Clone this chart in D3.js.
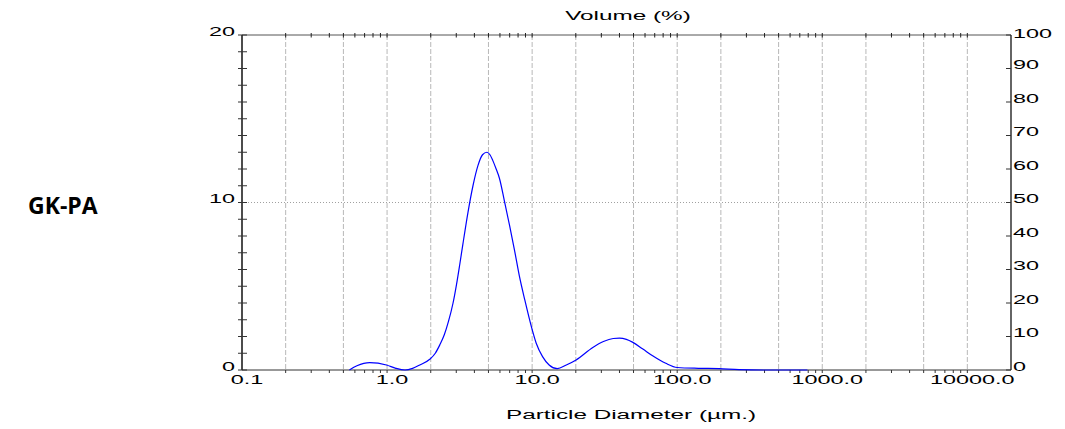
<!DOCTYPE html>
<html>
<head>
<meta charset="utf-8">
<script src="https://cdn.jsdelivr.net/npm/d3@7"></script>
<style>
  body { margin: 0; background: #fff; }
  text { font-family: "Liberation Sans", Arial, sans-serif; fill: #000; }
</style>
</head>
<body>
<svg width="1065" height="429"></svg>
<script>
const sampleName = "GK-PA";
const xTickLabels = ["0.1", "1.0", "10.0", "100.0", "1000.0", "10000.0"];
const xTickValues = [0.1, 1, 10, 100, 1000, 10000];
const gridValues = [0.2, 0.5, 1, 2, 5, 10, 20, 50, 100, 200, 500, 1000, 2000, 5000, 10000];
const leftLabels = [0, 10, 20];
const rightLabels = [0, 10, 20, 30, 40, 50, 60, 70, 80, 90, 100];

// particle diameter (µm) vs volume (%)
const diameters = [0.55, 0.62, 0.76, 0.99, 1.15, 1.33, 1.5, 1.68, 1.97, 2.15, 2.31, 2.48, 2.65, 2.85,
  3.01, 3.17, 3.33, 3.61, 3.91, 4.23, 4.55, 4.88, 5.12, 5.36, 5.65, 5.95, 6.47, 7.0, 7.58, 8.17,
  8.89, 9.87, 10.67, 11.8, 13.1, 14.9, 17.2, 20.1, 26.2, 31.0, 36.2, 40.0, 44.6, 49.5, 58, 67.7, 83.4,
  100, 140, 194, 267, 400, 790];
const volumes = [0, 0.25, 0.44, 0.3, 0.1, 0, 0.1, 0.3, 0.64, 1.0, 1.5, 2.1, 2.9, 4.0,
  5.1, 6.3, 7.5, 9.4, 11.0, 12.2, 12.85, 13.0, 12.85, 12.5, 12.0, 11.45, 10.0, 8.6, 7.1, 5.6,
  4.2, 2.6, 1.6, 0.8, 0.3, 0.08, 0.3, 0.6, 1.35, 1.7, 1.88, 1.9, 1.83, 1.65, 1.25, 0.85, 0.4,
  0.15, 0.1, 0.08, 0.02, 0, 0];

const svg = d3.select("svg");
const sx = 1.8; // the instrument font is drawn wide

const x = d3.scaleLog().domain([0.1, 20000]).range([242, 1011]);
const y = d3.scaleLinear().domain([0, 20]).range([370, 35]);
const yR = d3.scaleLinear().domain([0, 100]).range([370, 35]);

function wideText(g, str, tx, ty, anchor, size) {
  g.append("text")
    .attr("transform", `translate(${tx},${ty}) scale(${sx},1)`)
    .attr("text-anchor", anchor)
    .style("font-size", size + "px")
    .text(str);
}

// minor tick positions 1..9 per decade
const minors = [];
for (let e = -1; e <= 4; e++) {
  for (let m = 1; m <= 9; m++) {
    const v = m * Math.pow(10, e);
    if (v > 0.1 && v < 20000) minors.push(v);
  }
}

// vertical gridlines
svg.append("g").selectAll("line")
  .data(gridValues).enter()
  .append("line")
    .attr("x1", d => x(d)).attr("x2", d => x(d))
    .attr("y1", y(20)).attr("y2", y(0))
    .attr("stroke", "#b8b8b8")
    .attr("stroke-dasharray", "5,2");

// dotted line at 10
svg.append("line")
  .attr("x1", x.range()[0]).attr("x2", x.range()[1])
  .attr("y1", y(10)).attr("y2", y(10))
  .attr("stroke", "#888")
  .attr("stroke-width", 0.8)
  .attr("stroke-dasharray", "1,2");

// frame
svg.append("line")
  .attr("x1", 242).attr("x2", 1011).attr("y1", y(20)).attr("y2", y(20))
  .attr("stroke", "#555");
svg.append("line")
  .attr("x1", 242).attr("x2", 1011).attr("y1", y(0)).attr("y2", y(0))
  .attr("stroke", "#333");
svg.append("line")
  .attr("x1", 242).attr("x2", 242).attr("y1", y(20)).attr("y2", y(0))
  .attr("stroke", "#111").attr("stroke-width", 1.5);
svg.append("line")
  .attr("x1", 1011).attr("x2", 1011).attr("y1", y(20)).attr("y2", y(0))
  .attr("stroke", "#111").attr("stroke-width", 1.3);

// top & bottom minor ticks
svg.append("g").selectAll("line")
  .data(minors).enter()
  .append("line")
    .attr("x1", d => x(d)).attr("x2", d => x(d))
    .attr("y1", y(20) - 2).attr("y2", y(20) + 2.5)
    .attr("stroke", "#222");
svg.append("g").selectAll("line")
  .data(minors).enter()
  .append("line")
    .attr("x1", d => x(d)).attr("x2", d => x(d))
    .attr("y1", y(0)).attr("y2", y(0) + 3)
    .attr("stroke", "#333");

// left ticks every 1
svg.append("g").selectAll("line")
  .data(d3.range(0, 21)).enter()
  .append("line")
    .attr("x1", 238).attr("x2", 247)
    .attr("y1", d => y(d)).attr("y2", d => y(d))
    .attr("stroke", "#333");

// right ticks every 10
svg.append("g").selectAll("line")
  .data(rightLabels).enter()
  .append("line")
    .attr("x1", 1006).attr("x2", 1011)
    .attr("y1", d => yR(d)).attr("y2", d => yR(d))
    .attr("stroke", "#333");

// labels
const lab = svg.append("g");
xTickValues.forEach((v, i) => wideText(lab, xTickLabels[i], x(v) + 5, 384, "middle", 13));
leftLabels.forEach(v => wideText(lab, String(v), 235, y(v) + 0.5, "end", 13));
rightLabels.forEach(v => wideText(lab, String(v), 1013, yR(v) + (v === 100 ? 3 : 0.5), "start", 13));

wideText(lab, "Volume (%)", 628, 20, "middle", 13.5);
wideText(lab, "Particle Diameter (\u00b5m.)", 631, 419, "middle", 13.5);

svg.append("text")
  .attr("x", 28).attr("y", 214)
  .style("font-family", "'Open Sans', sans-serif")
  .style("font-weight", 700)
  .style("font-size", "23px")
  .text(sampleName);

// distribution curve
const line = d3.line()
  .x(d => x(d[0]))
  .y(d => y(d[1]))
  .curve(d3.curveMonotoneX);

svg.append("path")
  .datum(diameters.map((d, i) => [d, volumes[i]]))
  .attr("d", line)
  .attr("fill", "none")
  .attr("stroke", "#0000ff")
  .attr("stroke-width", 1.2);
</script>
</body>
</html>
